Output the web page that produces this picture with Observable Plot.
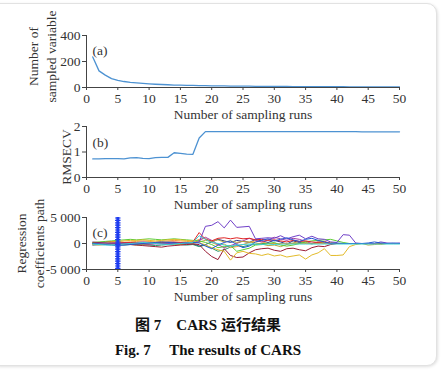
<!DOCTYPE html>
<html><head><meta charset="utf-8">
<script src="https://cdn.jsdelivr.net/npm/d3@7"></script>
<script src="https://cdn.jsdelivr.net/npm/@observablehq/plot@0.6"></script>
<style>
body{margin:0;background:#fff;width:443px;height:370px;overflow:hidden;position:relative;font-family:"Liberation Serif",serif;}
#card{position:absolute;left:-12px;top:3px;width:447px;height:361px;border:1px solid #e2e2e2;border-radius:10px;box-shadow:1px 1px 3px rgba(0,0,0,0.12);background:#fff;}
.panel{position:absolute;left:0;}
.cap{position:absolute;left:0;width:416px;text-align:center;font-weight:bold;font-size:15px;color:#111;font-family:"Liberation Serif","Noto Sans CJK SC",serif;white-space:pre;}
</style></head><body>
<div id="card"></div>
<div id="pa" class="panel" style="top:25px"></div>
<div id="pb" class="panel" style="top:120px"></div>
<div id="pc" class="panel" style="top:210px"></div>
<div class="cap" style="top:313px">图 7　CARS 运行结果</div>
<div class="cap" style="top:338px">Fig. 7　 The results of CARS</div>
<script>
const runs = [1,2,3,4,5,6,7,8,9,10,11,12,13,14,15,16,17,18,19,20,21,22,23,24,25,26,27,28,29,30,31,32,33,34,35,36,37,38,39,40,41,42,43,44,45,46,47,48,49,50];
const xTicks = [0,5,10,15,20,25,30,35,40,45,50];
const xTitle = "Number of sampling runs";

// (a) number of sampled variables
const sampledVars = [235,128,95,68,54,46,40,36,32,28,25,23,21,19,18,17,16,15,14,13,12,12,11,11,10,10,9,9,9,8,8,8,7,7,7,7,6,6,6,6,6,5,5,5,5,5,5,4,4,4];
const aTicks = [0,200,400];

// (b) RMSECV
const rmsecv = [0.73,0.73,0.74,0.74,0.74,0.73,0.77,0.78,0.75,0.74,0.78,0.79,0.79,0.97,0.95,0.92,0.91,1.55,1.80,1.80,1.80,1.80,1.80,1.80,1.80,1.80,1.80,1.80,1.80,1.80,1.80,1.80,1.80,1.80,1.80,1.80,1.80,1.80,1.80,1.80,1.80,1.80,1.80,1.79,1.79,1.79,1.79,1.79,1.79,1.79];
const bTicks = [0,1,2];

// (c) regression coefficient paths
const coefNavy = [-300,-200,-100,0,100,0,-100,-200,-100,0,100,200,300,200,100,0,-100,-500,-200,300,800,500,200,600,400,200,800,500,200,600,300,-100,500,200,0,0,0,0,0,0,0,0,0,0,0,0,0,0,0,0];
const coefTeal = [0,100,0,-100,-200,-300,-200,-100,-200,-300,-400,-300,-200,-100,-200,-300,-200,-600,-300,-900,-1500,-1200,-700,-400,-600,-300,-200,0,0,0,0,0,0,0,0,0,0,0,0,0,0,0,0,0,0,0,0,0,0,0];
const coefLightOrange = [100,200,300,400,300,200,300,400,500,400,300,400,500,600,500,400,300,800,1000,200,-300,-100,-800,-600,-200,200,500,300,0,0,0,0,0,0,0,0,0,0,0,0,0,0,0,0,0,0,0,0,0,0];
const coefMagenta = [300,200,100,0,-100,0,100,200,300,200,100,0,-100,0,100,200,100,600,1200,600,-200,-800,-400,0,500,1000,600,300,700,1200,900,600,1000,800,400,0,300,200,0,0,0,0,0,0,0,0,0,0,0,0];
const coefOlive = [-200,-300,-200,-100,0,-100,-200,-300,-200,-100,0,100,0,-100,-200,-100,0,300,600,400,700,300,500,200,400,300,100,-100,-400,-300,-600,-200,100,400,200,-100,300,100,200,0,0,0,0,0,-300,-200,0,0,0,0];
const coefGreen = [200,300,400,500,600,700,800,700,800,900,800,700,800,900,800,700,600,500,200,-200,-800,-600,-400,-1500,-1200,-900,-300,-200,0,200,-300,-500,-300,0,300,500,600,700,800,500,200,0,0,0,0,0,0,0,0,0];
const coefRed = [0,100,200,300,300,200,200,100,0,-100,0,100,200,300,200,100,300,2100,800,500,1000,1100,900,1100,900,1000,700,800,600,700,500,300,600,400,500,300,200,400,0,0,0,0,0,0,0,0,0,0,0,0];
const coefDarkRed = [100,150,200,100,0,-100,-200,-300,-400,-500,-600,-700,-500,-400,-300,-200,-100,-200,-1500,-2500,-3100,-1000,-2300,-2700,-2600,-1800,-1200,-1000,-900,-1300,-1500,-1000,-900,-1200,-1400,-800,-500,-600,-200,0,0,0,0,0,0,0,0,0,0,0];
const coefGold = [-100,0,100,300,400,500,600,600,700,600,500,600,700,800,700,600,500,200,-300,-800,-1200,-1500,-3200,-1800,-1500,-1900,-2000,-2300,-2000,-2400,-2200,-2600,-2400,-2200,-3000,-2200,-1800,-1000,-2300,-2300,-2200,-600,-200,0,0,0,-200,0,0,0];
const coefPurple = [0,50,100,80,60,40,20,0,-50,-100,-80,-60,-40,0,50,100,150,300,3300,3500,4200,3000,4500,3100,3200,3300,900,1000,1100,1000,1500,900,1300,1600,900,1400,900,800,300,200,1700,1600,100,0,0,0,300,100,0,100];
const coefBlue = [0,-100,-200,-300,-400,-300,-200,-100,0,100,200,300,200,100,0,100,200,100,-500,-1000,-300,200,500,-200,-800,-500,300,600,900,500,800,1100,700,400,800,1000,600,300,0,100,0,0,0,0,100,300,100,0,100,0];
const coefCyan = [-100,-200,-300,-300,-200,-100,0,100,200,100,0,-100,-200,-100,0,100,200,1500,800,200,0,-300,-500,-300,-200,-100,-100,-200,-100,-200,-100,-100,-100,-100,-100,-100,-100,-100,-100,-100,-100,-100,-100,-100,-100,-100,-100,-100,-100,-100];
const cTicks = [-5000,0,5000];
const optimalRun = [5];
const optimalSpan = [-5000, 5000];

const coefSeries = [
  {values: coefNavy, color: "#2a3a8c"},
  {values: coefTeal, color: "#2e9a6e"},
  {values: coefLightOrange, color: "#f0a040"},
  {values: coefMagenta, color: "#a43ca8"},
  {values: coefOlive, color: "#b4a43a"},
  {values: coefGreen, color: "#5ccc34"},
  {values: coefRed, color: "#e02424"},
  {values: coefDarkRed, color: "#9a1c34"},
  {values: coefGold, color: "#e3bb2a"},
  {values: coefPurple, color: "#7040c8"},
  {values: coefBlue, color: "#2458d4"},
  {values: coefCyan, color: "#3cd0d0"}
];

const fmtC = d3.formatLocale({decimal:".", thousands:" ", grouping:[3], currency:["",""], minus:"-"}).format(",");
const ink = "#333";

function panel({height, marginTop, yDomain, yTicks, yFmt, yLabel, labelDx, labelDy, tag, tagDy, marks}) {
  return Plot.plot({
    width: 443, height, marginLeft: 86, marginRight: 44, marginTop, marginBottom: 33,
    style: {fontFamily: "Liberation Serif, serif", fontSize: "13.5px", color: ink, background: "transparent", overflow: "visible"},
    x: {domain: [0, 50]},
    y: {domain: yDomain},
    marks: [
      ...marks,
      Plot.ruleY([yDomain[0]], {stroke: "#444", strokeWidth: 1}),
      Plot.ruleX([0], {stroke: "#444", strokeWidth: 1}),
      Plot.axisX({ticks: xTicks, tickSize: 3, tickPadding: 3, label: null, stroke: "#444", fill: ink, fontSize: 13.5}),
      Plot.axisY({ticks: yTicks, tickSize: 4, tickPadding: 2, label: null, tickFormat: yFmt, stroke: "#444", fill: ink, fontSize: 13.5}),
      Plot.text([xTitle], {text: d => d, frameAnchor: "bottom", dy: 27, lineAnchor: "middle", textAnchor: "middle", fontSize: 13.5, fill: ink}),
      Plot.text([yLabel], {text: d => d, frameAnchor: "left", rotate: -90, dx: labelDx, dy: labelDy, lineAnchor: "middle", textAnchor: "middle", lineHeight: 1.28, fontSize: 13.5, fill: ink}),
      Plot.text([tag], {text: d => d, frameAnchor: "top-left", dx: 6, dy: tagDy, textAnchor: "start", lineAnchor: "middle", fontSize: 13.5, fill: ink})
    ]
  });
}

document.getElementById("pa").append(panel({
  height: 95, marginTop: 10, yDomain: [0, 400], yTicks: aTicks, yFmt: d => String(d),
  yLabel: "Number of\nsampled variable", labelDx: -45, labelDy: -5, tag: "(a)", tagDy: 15,
  marks: [Plot.line(sampledVars, {x: (d, i) => runs[i], y: d => d, stroke: "#4d92d2", strokeWidth: 1.3})]
}));

document.getElementById("pb").append(panel({
  height: 90, marginTop: 6, yDomain: [0, 2], yTicks: bTicks, yFmt: d => String(d),
  yLabel: "RMSECV", labelDx: -21, labelDy: 5, tag: "(b)", tagDy: 16,
  marks: [Plot.line(rmsecv, {x: (d, i) => runs[i], y: d => d, stroke: "#4d92d2", strokeWidth: 1.3})]
}));

document.getElementById("pc").append(panel({
  height: 92, marginTop: 7, yDomain: [-5000, 5000], yTicks: cTicks, yFmt: fmtC,
  yLabel: "Regression\ncoefficients path", labelDx: -57, labelDy: 0, tag: "(c)", tagDy: 15,
  marks: [
    ...coefSeries.map(s => Plot.line(s.values, {x: (d, i) => runs[i], y: d => d, stroke: s.color, strokeWidth: 1})),
    Plot.ruleX(optimalRun, {y1: optimalSpan[0], y2: optimalSpan[1], stroke: "#1e3cf0", strokeWidth: 3}),
    Plot.ruleX(optimalRun, {y1: optimalSpan[0], y2: optimalSpan[1], stroke: "#1e3cf0", strokeWidth: 5.5, strokeDasharray: "1.2,1.2"})
  ]
}));
</script>
</body></html>
